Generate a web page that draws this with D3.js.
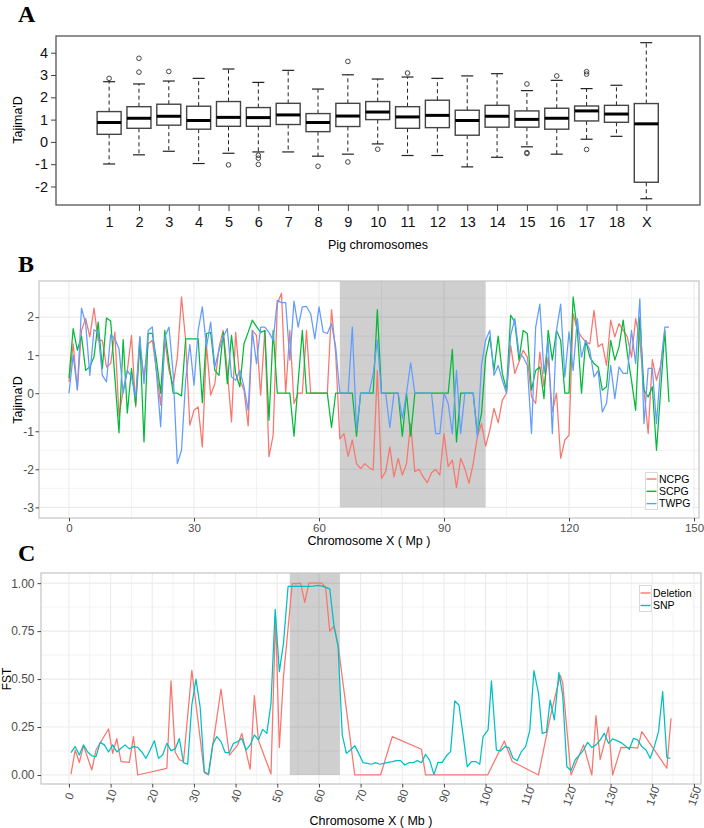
<!DOCTYPE html>
<html>
<head>
<meta charset="utf-8">
<script src="https://cdn.jsdelivr.net/npm/d3@7"></script>
<style>
  body { margin: 0; background: #fff; }
  svg { display: block; font-family: "Liberation Sans", Arial, sans-serif; }
</style>
</head>
<body>
<svg id="chart" width="704" height="828"></svg>
<script>
// ---- Panel A: Tajima's D per chromosome (boxplot) ----
const chromosomes = ['1','2','3','4','5','6','7','8','9','10','11','12','13','14','15','16','17','18','X'];
const whiskerLow  = [-0.99,-0.58,-0.42,-0.97,-0.51,-0.45,-0.45,-0.64,-0.55,-0.09,-0.61,-0.61,-1.12,-0.69,-0.22,-0.55,0.12,0.25,-2.55];
const quart1      = [0.34,0.61,0.75,0.57,0.70,0.70,0.78,0.46,0.69,1.00,0.61,0.64,0.30,0.66,0.66,0.57,0.94,0.88,-1.81];
const medians     = [0.87,1.06,1.15,0.96,1.10,1.09,1.21,0.87,1.16,1.34,1.12,1.19,0.96,1.15,1.01,1.06,1.39,1.25,0.81];
const quart3      = [1.36,1.58,1.69,1.60,1.81,1.54,1.73,1.27,1.73,1.81,1.58,1.87,1.42,1.64,1.39,1.51,1.61,1.64,1.72];
const whiskerHigh = [2.70,2.60,2.73,2.85,3.27,2.67,3.21,2.37,3.01,2.82,2.91,2.85,2.96,3.06,2.30,2.76,2.39,2.54,4.45];
const outliers = [[2.85],[3.75,3.13],[3.16],[],[-1.03],[-0.6,-0.73,-1.01],[],[-1.09],[3.61,-0.90],[-0.33],
  [3.09],[],[],[],[2.60,-0.48,-0.52],[2.96],[3.15,3.04,-0.34],[],[]];
const yTicksA = [-2,-1,0,1,2,3,4];

// ---- Panel B: Tajima's D along chromosome X, one value per Mb (index = Mb) ----
const ncpg = [0.3,1.3,0.08,1.65,1.96,1.48,2.24,1.39,1.39,0.69,
  0.78,1.61,-0.62,0.08,0.6,1.52,-0.36,1.22,0.43,1.3,
  1.39,0.6,-0.31,1.39,0.6,0.21,0.95,2.53,1.39,-0.84,
  -0.45,-0.36,-1.41,1.26,-0.05,0.25,1.2,1.65,0.6,-0.75,
  1.6,0.35,0.08,-0.86,1.65,1.52,-0.05,1.65,-1.67,-1.1,
  2.35,2.63,0,1.65,-0.27,0,0,1.65,0,0,
  0,0,0,2.2,1.05,-1.2,-1.06,-1.66,-1.23,-1.85,
  -1.98,-1.85,-1.95,-2.02,0.6,-2.24,-2.06,-1.41,-2.2,-1.71,
  -2.15,-1.85,-0.8,-2.06,-2.0,-2.2,-2.35,-2.09,-2.0,-2.15,
  -1.06,-1.93,-1.76,-2.48,-1.71,-1.98,-2.37,-1.85,-1.15,-0.8,
  -1.39,-0.97,-0.4,-0.78,-0.18,0,1.26,0.52,0.82,1.13,
  0.95,-0.1,-0.27,1.08,0.17,0.95,-0.49,0,-1.71,-1.23,
  -1.1,2.09,1.65,1.48,1.35,1.3,2.18,1.22,1.3,0.73,
  1.92,1.48,1.83,1.65,1.48,0.95,1.96,1.39,0.08,-1.06,
  0.88,0.34,0.73,1.65];
const scpg = [0.4,1.7,1.13,1.5,0.6,0.7,0.95,1.87,0.65,1.98,
  1.9,0.43,-1.04,1.41,-0.52,0.65,-0.31,1.48,-1.28,1.57,
  1.57,0.87,0,1.65,0.78,0,0,-0.07,1.43,1.43,
  1.43,1.43,-0.25,1.57,1.6,0.6,0.47,1.6,0.25,1.52,
  0.52,0.17,1.3,1.6,1.92,1.75,1.6,1.65,-0.71,1.65,
  0,0,0,0,-1.13,0.3,1.65,0,0,0,
  0,0,0,-0.9,0,0,0,0,0,-1.13,
  0,0,0,0,2.2,0,0,0,0,0,
  -1.13,0,-1.13,0,0,0,0,0,0,0,
  0,0,1.15,-1.28,0,0,0,0,-1.06,-0.53,
  0.95,1.48,0.6,1.5,0.52,0.08,2.05,1.87,0.87,1.65,
  1.57,0.08,0.6,0.69,-0.14,1.65,0.87,1.65,1.39,0,
  0,2.53,1.65,0,1.39,0.95,0.78,0.69,0.08,0.17,
  1.39,0.87,1.22,1.92,1.04,0.34,-0.45,2.0,0.08,-0.1,
  0.17,-1.5,0.08,1.65,-0.23];
const twpg = [0,1.0,0.1,2.24,1.83,0.47,1.67,1.6,0.47,0.3,
  1.54,1.43,1.17,0,0.6,0.43,-0.1,1.48,0.25,1.65,
  1.74,0.52,-0.88,1.48,1.74,0.52,-1.85,-1.5,0.34,1.28,
  0.21,1.65,2.27,1.22,1.87,0.69,1.13,1.48,1.7,0.43,
  0.34,0.6,0.17,-0.45,1.65,0.78,1.74,1.74,1.6,1.39,
  2.44,2.38,2.38,0.87,2.42,1.74,2.27,2.28,2.09,1.43,
  2.27,1.61,1.57,1.83,1.22,0,0,0,1.74,-0.97,
  0,0,0,0.5,1.4,0,0,-0.9,0,0,
  -0.66,0,0.8,0,0,0,0,0,-1.06,-1.06,
  0,-0.27,-1.06,0.6,-1.06,0,0,0,-1.15,0.73,
  1.4,1.65,0.47,0.73,0.34,0,1.52,1.96,1.04,0.95,
  0.73,-1.06,1.74,2.34,0.52,1.39,-1.06,1.65,2.34,0.43,
  1.61,0.6,1.96,0.95,1.39,1.13,0.43,0.6,-0.49,-0.27,
  0.73,-0.14,0.69,0.52,0.52,1.65,0.78,2.48,-0.8,0.65,
  0.65,-0.8,0.69,1.74,1.74];
const seriesB = ['NCPG', 'SCPG', 'TWPG'];
const regionB = [65, 100];

// ---- Panel C: FST along chromosome X ----
const delPos = [0.5,1.5,2.5,3.5,5.5,6.5,9.5,10.5,11.5,12.5,14.5,15.5,16.5,23.5,24.5,25.5,26.5,27.5,29.5,32.5,
  33.5,36.5,38.5,40.5,41.5,43.5,44.5,45.5,48.5,49.6,50.5,51.5,53.6,54.6,55.6,56.6,57.6,60.6,61.6,62.6,
  63.6,64.6,68.6,74.8,77.6,84.6,85.6,100.5,104.5,106.4,112.7,115.5,117.9,118.5,120.5,123.5,125.5,126.5,127.5,129.5,
  130.5,132.5,135.5,136.5,137.5,143.5,144.5];
const delFst = [0.005,0.13,0.065,0.153,0.026,0.13,0.24,0.113,0.19,0.07,0.066,0.2,0.0,0.035,0.49,0.12,0.08,0.07,0.545,0.012,
  0.0,0.447,0.104,0.156,0.217,0.03,0.414,0.18,0.005,0.826,0.144,0.513,0.997,0.997,1.0,0.9,1.0,1.0,0.98,0.75,
  0.774,0.68,0.0,0.0,0.2,0.134,0.0,0.0,0.177,0.07,0.0,0.3,0.52,0.48,0.0,0.157,0.0,0.31,0.08,0.25,
  0.0,0.144,0.143,0.14,0.226,0.035,0.296];
const snpPos = [0.5,1.5,2.5,3.5,4.5,5.5,6.5,7.5,8.5,9.5,10.5,11.5,12.5,13.5,14.5,15.5,16.5,17.5,18.5,19.5,
  20.5,21.5,22.5,23.5,24.5,25.5,26.5,27.5,28.5,29.5,30.5,31.5,32.5,33.5,34.5,35.5,36.5,37.5,38.5,39.5,
  40.5,41.5,42.5,43.5,44.5,45.5,46.5,47.5,48.5,49.5,50.5,51.5,52.6,53.6,54.6,55.6,56.6,57.6,58.6,59.8,
  61.0,62.6,63.6,64.6,65.6,66.6,67.6,68.6,69.6,70.6,71.6,72.6,73.6,74.6,75.6,76.6,77.6,78.6,79.6,80.6,
  81.6,82.6,83.6,84.6,85.6,86.6,87.6,88.6,89.6,90.6,91.6,92.6,93.6,94.6,95.6,96.6,97.6,98.6,99.4,100.6,
  101.4,102.6,103.6,104.6,105.6,106.6,107.6,108.6,109.6,110.6,111.6,112.7,113.6,114.6,115.5,116.5,117.6,118.5,119.5,120.5,
  121.5,122.5,123.5,124.5,125.5,126.5,127.5,128.5,129.5,130.5,131.5,132.5,133.5,134.5,135.5,136.5,137.5,138.5,139.5,140.5,
  141.5,142.5,143.5,144.3];
const snpFst = [0.117,0.148,0.104,0.157,0.12,0.1,0.096,0.17,0.157,0.12,0.157,0.12,0.139,0.157,0.136,0.148,0.144,0.12,0.087,0.13,
  0.179,0.087,0.104,0.165,0.127,0.136,0.19,0.064,0.056,0.365,0.5,0.353,0.017,0.005,0.16,0.2,0.174,0.117,0.117,0.165,
  0.174,0.19,0.13,0.157,0.209,0.183,0.238,0.217,0.374,0.864,0.539,0.687,0.983,0.983,0.985,0.983,0.983,0.983,0.985,0.988,
  0.983,0.97,0.78,0.67,0.209,0.113,0.13,0.153,0.11,0.064,0.06,0.056,0.064,0.056,0.06,0.066,0.07,0.075,0.075,0.052,
  0.064,0.064,0.075,0.064,0.108,0.075,0.003,0.066,0.066,0.1,0.122,0.386,0.365,0.209,0.043,0.07,0.07,0.056,0.2,0.235,
  0.49,0.13,0.125,0.148,0.143,0.087,0.075,0.122,0.148,0.231,0.544,0.426,0.217,0.223,0.39,0.287,0.534,0.417,0.043,0.023,
  0.078,0.104,0.13,0.17,0.143,0.157,0.183,0.217,0.165,0.188,0.179,0.169,0.153,0.134,0.191,0.183,0.148,0.13,0.087,0.148,
  0.226,0.435,0.092,0.087];
const seriesC = ['Deletion', 'SNP'];
const regionC = [53, 65];

const svg = d3.select('#chart');
const gridCol = '#ebebeb';
const tickTxt = '#4d4d4d';
const plain = d => String(d);   // hyphen minus, no decimals

// panel letters
[['A', 22], ['B', 272], ['C', 561]].forEach(([t, y]) => {
  svg.append('text').attr('x', 18).attr('y', y).text(t)
    .style('font-family', '"Liberation Serif", "Times New Roman", serif')
    .style('font-weight', 'bold').style('font-size', '24px');
});

// ================= Panel A =================
const xA = d3.scaleLinear().domain([-0.78, 20.8]).range([56, 700]);
const yA = d3.scaleLinear().domain([-2.83, 4.75]).range([205, 36]);
const gA = svg.append('g');
const boxW = 24;

chromosomes.forEach((c, i) => {
  const cx = xA(i + 1);
  // dashed whiskers
  gA.append('line').attr('x1', cx).attr('x2', cx).attr('y1', yA(quart3[i])).attr('y2', yA(whiskerHigh[i]))
    .attr('stroke', '#222').attr('stroke-dasharray', '4,3');
  gA.append('line').attr('x1', cx).attr('x2', cx).attr('y1', yA(quart1[i])).attr('y2', yA(whiskerLow[i]))
    .attr('stroke', '#222').attr('stroke-dasharray', '4,3');
  // staples
  [whiskerHigh[i], whiskerLow[i]].forEach(v => {
    gA.append('line').attr('x1', cx - boxW / 4).attr('x2', cx + boxW / 4).attr('y1', yA(v)).attr('y2', yA(v))
      .attr('stroke', '#222').attr('stroke-width', 1.2);
  });
  gA.append('rect').attr('x', cx - boxW / 2).attr('width', boxW)
    .attr('y', yA(quart3[i])).attr('height', yA(quart1[i]) - yA(quart3[i]))
    .attr('fill', '#fff').attr('stroke', '#444').attr('stroke-width', 1.4);
  gA.append('line').attr('x1', cx - boxW / 2).attr('x2', cx + boxW / 2).attr('y1', yA(medians[i])).attr('y2', yA(medians[i]))
    .attr('stroke', '#000').attr('stroke-width', 3);
  outliers[i].forEach(v => {
    gA.append('circle').attr('cx', cx).attr('cy', yA(v)).attr('r', 2.3)
      .attr('fill', 'none').attr('stroke', '#444').attr('stroke-width', 1);
  });
});

gA.append('rect').attr('x', 56).attr('y', 36).attr('width', 644).attr('height', 169)
  .attr('fill', 'none').attr('stroke', '#555').attr('stroke-width', 1.3);

const axA_y = gA.append('g').attr('transform', 'translate(56,0)')
  .call(d3.axisLeft(yA).tickValues(yTicksA).tickFormat(plain).tickSize(5).tickPadding(3));
const axA_x = gA.append('g').attr('transform', 'translate(0,205)')
  .call(d3.axisBottom(xA).tickValues(d3.range(1, chromosomes.length + 1))
    .tickFormat(i => chromosomes[i - 1]).tickSize(6).tickPadding(6));
[axA_y, axA_x].forEach(ax => {
  ax.select('.domain').remove();
  ax.selectAll('line').attr('stroke', '#444');
  ax.selectAll('text').style('font-size', '14.5px').attr('fill', '#111').style('font-family', '"Liberation Sans", Arial, sans-serif');
});
gA.append('text').attr('transform', 'translate(22,120) rotate(-90)').attr('text-anchor', 'middle')
  .style('font-size', '12.5px').text("Tajima'D");
gA.append('text').attr('x', 378).attr('y', 249).attr('text-anchor', 'middle')
  .style('font-size', '12.5px').text('Pig chromosomes');

// ================= ggplot-like panel helper =================
function panel(g, x, y, box, xMajor, xMinor, yMajor, yMinor) {
  const [l, t, r, b] = box;
  g.append('rect').attr('x', l).attr('y', t).attr('width', r - l).attr('height', b - t).attr('fill', '#fff');
  xMinor.forEach(v => g.append('line').attr('x1', x(v)).attr('x2', x(v)).attr('y1', t).attr('y2', b)
    .attr('stroke', gridCol).attr('stroke-width', 0.6));
  yMinor.forEach(v => g.append('line').attr('y1', y(v)).attr('y2', y(v)).attr('x1', l).attr('x2', r)
    .attr('stroke', gridCol).attr('stroke-width', 0.6));
  xMajor.forEach(v => g.append('line').attr('x1', x(v)).attr('x2', x(v)).attr('y1', t).attr('y2', b)
    .attr('stroke', gridCol).attr('stroke-width', 1.1));
  yMajor.forEach(v => g.append('line').attr('y1', y(v)).attr('y2', y(v)).attr('x1', l).attr('x2', r)
    .attr('stroke', gridCol).attr('stroke-width', 1.1));
}
function styleAxis(ax, size) {
  ax.select('.domain').remove();
  ax.selectAll('line').attr('stroke', '#444');
  ax.selectAll('text').style('font-size', size || '12px').attr('fill', tickTxt)
    .style('font-family', '"Liberation Sans", Arial, sans-serif');
}

// ================= Panel B =================
const boxB = [39, 281, 699, 518];
const xB = d3.scaleLinear().domain([-7.2, 151.2]).range([boxB[0], boxB[2]]);
const yB = d3.scaleLinear().domain([-3.28, 2.95]).range([boxB[3], boxB[1]]);
const colB = d3.scaleOrdinal().domain(seriesB).range(['#F8766D', '#00BA38', '#619CFF']);
const gB = svg.append('g');
panel(gB, xB, yB, boxB, [0, 30, 60, 90, 120, 150], [15, 45, 75, 105, 135],
  [-3, -2, -1, 0, 1, 2], [-2.5, -1.5, -0.5, 0.5, 1.5, 2.5]);
gB.append('rect').attr('x', xB(regionB[0])).attr('width', xB(regionB[1]) - xB(regionB[0]))
  .attr('y', boxB[1]).attr('height', yB(-3) - boxB[1]).attr('fill', '#000').attr('opacity', 0.19);
const lineB = d3.line().x((d, i) => xB(i)).y(d => yB(d));
[ncpg, scpg, twpg].forEach((s, k) => {
  gB.append('path').datum(s).attr('d', lineB).attr('fill', 'none')
    .attr('stroke', colB(seriesB[k])).attr('stroke-width', 1.25).attr('stroke-linejoin', 'round');
});
gB.append('rect').attr('x', boxB[0]).attr('y', boxB[1]).attr('width', boxB[2] - boxB[0]).attr('height', boxB[3] - boxB[1])
  .attr('fill', 'none').attr('stroke', '#c4c4c4').attr('stroke-width', 1.2);
styleAxis(gB.append('g').attr('transform', `translate(0,${boxB[3]})`)
  .call(d3.axisBottom(xB).tickValues([0, 30, 60, 90, 120, 150]).tickFormat(plain).tickSize(3.5).tickPadding(2)), '11.5px');
styleAxis(gB.append('g').attr('transform', `translate(${boxB[0]},0)`)
  .call(d3.axisLeft(yB).tickValues([-3, -2, -1, 0, 1, 2]).tickFormat(plain).tickSize(3.5).tickPadding(1.5)));
gB.append('text').attr('transform', 'translate(22,400) rotate(-90)').attr('text-anchor', 'middle')
  .style('font-size', '12.5px').text("Tajima'D");
gB.append('text').attr('x', 369).attr('y', 545).attr('text-anchor', 'middle')
  .style('font-size', '12.5px').text('Chromosome X ( Mp )');

// legend B
const legB = gB.append('g').attr('transform', 'translate(645,472)');
legB.append('rect').attr('width', 47).attr('height', 38).attr('fill', '#fff');
legB.append('rect').attr('x', 0.5).attr('y', 0.5).attr('width', 12).attr('height', 37)
  .attr('fill', 'none').attr('stroke', '#d9d9d9');
seriesB.forEach((s, i) => {
  const yy = 7 + i * 12.3;
  legB.append('line').attr('x1', 1.5).attr('x2', 11.5).attr('y1', yy).attr('y2', yy)
    .attr('stroke', colB(s)).attr('stroke-width', 1.4);
  legB.append('text').attr('x', 14).attr('y', yy + 3.8).style('font-size', '10.5px').text(s);
});

// ================= Panel C =================
const boxC = [41, 573, 701, 784];
const xC = d3.scaleLinear().domain([-6.7, 151.7]).range([boxC[0], boxC[2]]);
const yC = d3.scaleLinear().domain([-0.047, 1.053]).range([boxC[3], boxC[1]]);
const colC = d3.scaleOrdinal().domain(seriesC).range(['#F8766D', '#00BFC4']);
const gC = svg.append('g');
const xTicksC = d3.range(0, 151, 10);
panel(gC, xC, yC, boxC, xTicksC, d3.range(5, 150, 10),
  [0, 0.25, 0.5, 0.75, 1], [0.125, 0.375, 0.625, 0.875]);
gC.append('rect').attr('x', xC(regionC[0])).attr('width', xC(regionC[1]) - xC(regionC[0]))
  .attr('y', boxC[1]).attr('height', yC(0) - boxC[1]).attr('fill', '#000').attr('opacity', 0.19);
const lineC = d3.line().x(d => xC(d[0])).y(d => yC(d[1]));
gC.append('path').datum(d3.zip(delPos, delFst)).attr('d', lineC).attr('fill', 'none')
  .attr('stroke', colC('Deletion')).attr('stroke-width', 1.25).attr('stroke-linejoin', 'round');
gC.append('path').datum(d3.zip(snpPos, snpFst)).attr('d', lineC).attr('fill', 'none')
  .attr('stroke', colC('SNP')).attr('stroke-width', 1.25).attr('stroke-linejoin', 'round');
gC.append('rect').attr('x', boxC[0]).attr('y', boxC[1]).attr('width', boxC[2] - boxC[0]).attr('height', boxC[3] - boxC[1])
  .attr('fill', 'none').attr('stroke', '#c4c4c4').attr('stroke-width', 1.2);
const axC_x = gC.append('g').attr('transform', `translate(0,${boxC[3]})`)
  .call(d3.axisBottom(xC).tickValues(xTicksC).tickFormat(plain).tickSize(3.5));
styleAxis(axC_x, '11.5px');
axC_x.selectAll('text').attr('y', 0).attr('dy', null).attr('dominant-baseline', 'central')
  .attr('transform', 'translate(0,12) rotate(-70)').style('text-anchor', 'middle');
styleAxis(gC.append('g').attr('transform', `translate(${boxC[0]},0)`)
  .call(d3.axisLeft(yC).tickValues([0, 0.25, 0.5, 0.75, 1]).tickFormat(d3.format('.2f')).tickSize(3.5).tickPadding(3)));
gC.append('text').attr('transform', 'translate(11,679) rotate(-90)').attr('text-anchor', 'middle')
  .style('font-size', '12px').text('FST');
gC.append('text').attr('x', 371).attr('y', 825).attr('text-anchor', 'middle')
  .style('font-size', '12.5px').text('Chromosome X ( Mb )');

// legend C
const legC = gC.append('g').attr('transform', 'translate(639,585)');
legC.append('rect').attr('width', 54).attr('height', 27).attr('fill', '#fff');
legC.append('rect').attr('x', 0.5).attr('y', 0.5).attr('width', 12).attr('height', 26)
  .attr('fill', 'none').attr('stroke', '#d9d9d9');
seriesC.forEach((s, i) => {
  const yy = 8 + i * 12.5;
  legC.append('line').attr('x1', 1.5).attr('x2', 11.5).attr('y1', yy).attr('y2', yy)
    .attr('stroke', colC(s)).attr('stroke-width', 1.4);
  legC.append('text').attr('x', 14).attr('y', yy + 3.8).style('font-size', '10.5px').text(s);
});
</script>
</body>
</html>
